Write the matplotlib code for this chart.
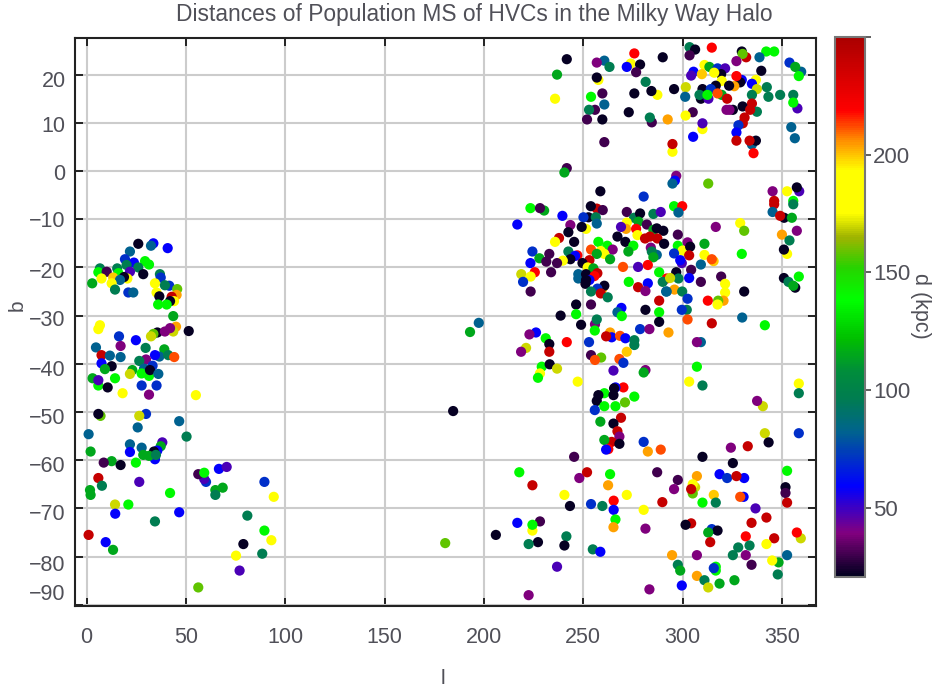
import matplotlib
matplotlib.use('Agg')
import matplotlib.pyplot as plt
import numpy as np
from matplotlib.colors import LinearSegmentedColormap
from matplotlib.transforms import ScaledTranslation

# (l, b, d), one list per sky region
left_upper = [(33.6,-15,59),(26,-15.1,22),(32.4,-15.5,82),(40.8,-16,59),(21.8,-16.7,82),(19.3,-18.3,70),(23.8,-19,59),
    (20.1,-19.5,96),(29.4,-18.7,137),(31.4,-19.4,137),(26,-20,96),(6.7,-20.2,96),(15.4,-20.2,96),(5.9,-21,137),
    (10.1,-20.9,30),(21.8,-20.9,48),(16,-21.2,137),(28.5,-21.4,22),(36.9,-21.4,96),(37.3,-22.1,70),(7.5,-22.3,178),
    (13.4,-22.1,199),(20.5,-22.3,178),(18.8,-22,22),(16.8,-22.6,82),(12.6,-23.3,178),(2.8,-23.3,115),(34.4,-23.3,178),
    (41.6,-23.8,70),(39.4,-23.7,96),(45.6,-24.5,158),(14.3,-24.6,96),(21,-25.2,70),(23.5,-25.2,82),(35.2,-25.2,178),
    (45.3,-25.7,204),(42.8,-26.1,240),(36.6,-26,22),(44,-27,178),(42,-27,22),(36,-27.7,137),(40.3,-27.7,137),
    (43.6,-30.1,115),(6.7,-32,178),(5.9,-32.8,178),(45,-32.3,204),(51.4,-33.2,22),(43.6,-33.3,170),(35.6,-33.5,22),
    (33.6,-33.8,158),(32.4,-34.3,170),(42,-32.6,39),(39.4,-33.3,39),(16.3,-34.3,70),(24.8,-35.1,59),(17.1,-36.3,39),
    (4.7,-36.6,82),(29.7,-36.7,96),(39.1,-37,115),(7.5,-38.2,240),(11.7,-38.3,82),(17.1,-38.6,82),(36.6,-38.5,82),
    (34.4,-38.2,59),(41.1,-38.2,96),(44.1,-38.6,212),(29.9,-39.1,39),(26.5,-39.4,96),(7.5,-39.9,59),(12.6,-40.5,22),
    (33.2,-40.4,70),(28.9,-41,82),(23,-41.3,115),(9.2,-41.1,115),(27.7,-42,137),(31.4,-42.5,137),(31.9,-41.3,22),
    (36.1,-42.1,82),(21.8,-42.1,170),(3,-43,115),(14.3,-43,137),(5.9,-44.5,137),(5.9,-43.4,48),(10.6,-44.9,22),
    (27.7,-44.5,70),(35.2,-44.5,70),(18.1,-46.1,178),(55,-46.5,178),(31.4,-46.4,39)]

left_lower = [(7,-50.8,158),(5.9,-50.4,22),(29.9,-50.4,70),(26.5,-50.8,170),(25.7,-53.2,82),(46.6,-51.9,82),(1,-54.6,82),
    (50.3,-55.1,96),(38.1,-56.3,48),(37.3,-57.1,115),(21.8,-56.7,82),(27.7,-57.4,82),(21.8,-58.3,59),(2,-58.2,115),
    (35.6,-58,59),(34.4,-59.8,59),(33.9,-58.2,22),(28.5,-58.9,115),(31.4,-59.1,115),(34.9,-58.9,96),(12.6,-60.2,115),
    (8.6,-60.5,30),(17.1,-61,22),(24.8,-60.5,137),(60.1,-64.5,70),(59.2,-63.9,48),(56.2,-62.9,30),(59.2,-62.6,137),
    (66.6,-61.8,59),(70.5,-61.4,48),(89.5,-64.5,70),(5.9,-63.7,240),(7.7,-65.3,96),(26.5,-64.5,48),(1.7,-66.2,115),
    (2,-67.2,115),(64.8,-66.2,115),(68.5,-65.7,115),(64.8,-67.2,96),(42,-66.8,137),(94.2,-67.6,178),(14.3,-69.2,170),
    (21,-69.2,137),(14.4,-71.1,59),(46.6,-70.8,59),(80.9,-71.5,96),(34.4,-72.7,96),(89.5,-74.6,137),(93,-76.6,178),
    (78.9,-77.4,22),(1,-75.5,240),(9.6,-77,59),(13.3,-78.6,115),(75.2,-79.8,178),(88.4,-79.4,96),(77,-82.9,48),
    (56.2,-86.4,158)]

middle = [(184.5,-49.8,22),(193,-33.4,115),(197.4,-31.5,82),(180.5,-77.2,158),(206,-75.5,22)]

top_right_a = [(241.7,23.2,22),(275.7,24.4,219),(290,23.6,22),(260.6,22.9,82),(256.8,22.5,39),(263.2,21.6,96),
    (273.9,22.3,178),(271.9,21.6,59),(278.6,22.1,22),(276.6,20.5,30),(236.8,20,115),(257.6,18.9,178),(256.8,19.4,22),
    (281.4,18.5,96),(259.6,16.1,30),(275.7,16.1,22),(287.3,15.8,178),(284.3,16.6,22),(253.9,15.4,137),(235.8,15,178),
    (260.6,13.8,82),(255.9,12.7,30),(252.9,12.7,96),(272.9,12.2,22),(251.9,10.7,30),(259.6,10.7,22),(284.5,10.1,30),
    (283.5,11.1,96),(292.5,10.7,204),(260.6,6,30),(241.7,0.6,30),(240.5,-0.3,115),(258.6,-4.2,22),(280.4,-5.3,70)]

top_right_b = [(303.5,25.7,96),(306.3,25.2,22),(314.7,25.6,219),(329.8,24.8,22),(332,23.6,240),(330.2,24.3,158),
    (342.1,24.8,137),(346.1,24.8,137),(338.7,23.6,82),(303.5,24,30),(327.1,22.8,39),(353.8,22.5,70),(359.7,20.6,82),
    (356.7,21.6,115),(358.5,19.7,137),(311,22,178),(313.5,21.6,115),(305.5,20.6,59),(304.3,19.8,48),(309.7,20.1,199),
    (317.6,21.3,70),(321.4,21.3,48),(319.4,20.1,22),(315.9,20.4,178),(339.6,20.8,22),(329.8,18.9,59),(329,18.4,22),
    (327.1,19.7,219),(336.9,18.9,178),(334.9,18.1,59),(319.7,18.7,178),(326,17.6,204),(323.4,17.7,22),(316.7,17.7,22),
    (295.7,17,22),(301.6,17.4,170),(310,17,22),(314.2,17,70),(337.4,17,170),(342.4,17.4,96),(301.3,15.4,82),
    (309.2,15,22),(308.5,15.8,96),(313,15,48),(312.5,15.8,137),(319.7,15.8,115),(317.6,16.1,212),(322.4,15,240),
    (334.9,15.8,96),(343.2,15.4,96),(349.1,15.8,96),(355.7,15.8,96),(357.8,13,48),(355.7,14.2,137),(334.9,14,240),
    (330.2,13.4,22),(325.3,12.7,22),(322.1,12.7,39),(323.6,12.7,39),(337.4,12.3,96),(334,12.7,240),(305.1,12.2,30),
    (301.5,11.5,178),(331.2,11.1,240),(330.3,9.9,240),(310,8.7,178),(310,9.9,48),(328.1,9.5,70),(354.7,9.1,82),
    (327.1,8,59),(305.3,7.1,59),(356.5,6.8,82),(327.1,6.3,240),(334.9,5.5,82),(336.9,6.3,22),(333.7,6.3,240),
    (294.9,4,178),(294.9,5.6,240),(335.7,3.7,219),(296.8,-1,39),(296.1,-2,59),(294.9,-2.6,82),(312.9,-2.6,158),
    (345.3,-4.2,39),(358.7,-4.2,48),(352.6,-4.2,178),(357.5,-3.4,22)]

centre_a = [(230.3,-8.2,115),(223.4,-7.7,137),(228.2,-7.7,30),(256.8,-7.8,240),(253.8,-7.3,22),(259.8,-8.1,30),
    (239.5,-9.3,59),(216.8,-11.1,59),(252.6,-9.6,22),(250.1,-9.6,70),(256.3,-9.6,96),(256.8,-10.9,82),(271.9,-8.5,30),
    (275.6,-9.7,96),(278.6,-8.8,22),(285.3,-8.9,96),(289,-8.5,48),(277.8,-10.5,115),(271.9,-10.7,178),(282,-11.1,30),
    (271.5,-12,204),(269,-11.6,48),(276.6,-12,219),(285.3,-12.2,115),(287,-11.9,22),(290.3,-12.4,22),(243.5,-11.2,39),
    (251.4,-12,178),(249.2,-11.6,22),(242.5,-12.7,22),(277.3,-13.3,178),(267.2,-13.6,22),(281.1,-14,240),(283.6,-13.6,240),
    (287.3,-14,240),(237.8,-13.9,240),(235.8,-14.7,178),(245.4,-14.7,22),(271.2,-14.7,22),(257.6,-14.7,137),
    (262.1,-15.5,137),(275.2,-15.5,137),(290.7,-15.1,22),(284,-15.9,39),(264.8,-16.3,39),(253.9,-16.3,212),
    (242.5,-16.7,96),(272.7,-16.7,115),(287,-17.4,82),(284.5,-16.7,96),(224.4,-16.7,70),(232.9,-17.2,30),
    (258.8,-16.6,178),(260.6,-17.2,178),(256.8,-17.2,115),(285.3,-17.9,115),(247,-17.5,219),(245.9,-17.6,59),
    (227.9,-18.1,115),(263.5,-18.3,115),(243.5,-18.3,22),(239.7,-18.6,178),(231.4,-18.8,30),(236.8,-19.1,30),
    (223.4,-19.1,59),(253.1,-18.5,240),(249.6,-19.1,22)]

centre_b = [(252.2,-20,178),(255.1,-20.2,115),(270,-19.9,212),(277.6,-19.9,48),(282.5,-19.5,219),(288.2,-21,137),
    (225.6,-21,219),(233.8,-21,30),(218.8,-21.4,170),(223.5,-21.9,178),(247.5,-21.4,82),(247.5,-22.3,82),(251.4,-21.4,22),
    (257.1,-21.2,240),(255.6,-21.8,219),(292,-22.3,219),(219.7,-23,70),(290,-23,96),(253.1,-22.6,59),(251.4,-22.6,22),
    (272.9,-23,137),(282.5,-23.3,59),(251.1,-23.4,22),(259.6,-24.4,199),(260.6,-23.8,22),(277.6,-24.1,240),
    (257.1,-24.4,70),(281.3,-24.9,39),(253.9,-25,96),(223.5,-25,30),(291.7,-25,82),(258.8,-25.4,240),(262.3,-26.2,96),
    (288.2,-26.9,240),(246.4,-27.7,22),(253.9,-27.7,30),(269.2,-28.4,59),(267.2,-29.3,82),(281.3,-28.8,22),
    (288.2,-29.3,137),(269.4,-30.1,137),(238.6,-30,22),(246.4,-29.7,137),(288.2,-31.3,22),(255.9,-31.8,39),
    (256.8,-30.8,96),(248.9,-31.9,22),(255.8,-33.1,137),(278.6,-32.8,70),(283.3,-32.8,39),(292.9,-33.5,204),
    (263.5,-33.5,204),(226.2,-33.5,59),(222.9,-33.9,39),(231.1,-34.7,137),(264.3,-34.5,59),(261.5,-34.3,240),
    (268.5,-34.2,212),(271.2,-34.7,59),(275.7,-35.1,96),(275.7,-36.1,96),(241.7,-35.5,219),(252.9,-35.5,70),
    (232.9,-35.9,22)]

centre_c = [(346.1,-6.2,240),(346.1,-6.9,240),(355.7,-6.2,137),(355.7,-6.9,96),(295.7,-7.3,137),(299.8,-7.3,219),
    (297.9,-8.6,82),(345.3,-8.5,82),(351.1,-9.7,22),(349.1,-9.3,240),(355,-9.7,115),(329,-10.8,178),(331,-12.4,158),
    (316.7,-11.6,39),(297.6,-13.2,30),(302.5,-14.8,39),(357.5,-12.4,39),(350,-13.2,204),(353.8,-14.4,96),(311,-15.1,115),
    (297.6,-15.5,137),(300,-16.5,178),(303.8,-15.7,22),(352.6,-17.2,178),(351,-16.3,22),(329.8,-17.2,137),(295.7,-17.1,70),
    (303.3,-17.5,240),(311,-17.4,178),(315.6,-18.7,199),(314.7,-18.3,212),(299.6,-19.1,48),(298.8,-18.5,59),
    (309.2,-19.4,82),(304.3,-20.5,30),(296.8,-21,22),(319.4,-21.9,30),(358.5,-21.9,137),(351,-22.2,22),(303.3,-22.2,59),
    (297.9,-22.3,96),(293.7,-22.2,170),(309.2,-23,30),(321.4,-23.4,178),(356.7,-24.2,22),(353.3,-23,96),(355.7,-23.8,115),
    (331,-25,22),(295.9,-24.6,204),(292,-25,82),(299.8,-25,96),(321.4,-25.2,178),(302.5,-26.5,70),(312.7,-26.9,219),
    (320.6,-26.9,204),(317.9,-26.9,158),(317.6,-27.7,178),(302.1,-28.8,96),(299.6,-28.8,70),(302.5,-30.8,212),
    (330,-30.4,82),(314.7,-31.6,240),(341.4,-32,137),(309.2,-35.5,82),(307.2,-35.5,39)]

low_a = [(221.2,-36.7,170),(218.7,-37.5,39),(232.9,-37.5,240),(253.9,-38.2,30),(259,-38.7,158),(255.9,-39.2,212),
    (268.2,-39,212),(271.9,-37.5,199),(270.2,-39.8,70),(265.2,-41.4,48),(281.3,-41.3,39),(280.4,-41.8,115),(229.1,-40.6,137),
    (233.1,-40.1,22),(236.8,-41,170),(228.2,-42,178),(227.2,-42.9,137),(247.2,-43.7,178),(270.2,-44.9,219),(266.2,-44.9,59),
    (265.5,-45.1,22),(260.6,-46.1,137),(265.2,-46.5,22),(257.6,-46.5,22),(275.7,-46.8,137),(256.8,-47.7,22),(271,-48,158),
    (260.6,-48.8,137),(266.2,-48.8,137),(255.8,-49.6,70),(269,-51.2,240),(258.6,-52,115),(265.2,-52.4,22),(267.2,-54,240),
    (268.2,-55.1,39),(264.3,-56.2,240),(260.6,-55.8,115),(268.2,-56.6,22),(262.6,-57.7,219),(261.5,-57.8,59),
    (280.4,-56.2,70),(282.5,-58.2,204),(289,-57.8,212),(245.4,-59.3,30),(217.8,-62.5,137),(248,-63.7,39),(251.9,-62.5,240),
    (224.4,-65.2,240),(263.5,-62.9,137),(262.5,-65.2,204),(287.2,-62.5,30),(240.5,-67.2,178),(271.9,-67.2,178),
    (265.3,-68.4,219),(253.9,-69.1,70),(259.6,-69.5,96),(243.3,-69.5,22),(289.8,-68.7,240),(265.3,-70.3,59),(280.4,-70.3,178),
    (266.2,-72.3,137),(265.2,-73.9,204),(281.3,-74.2,39),(216.8,-73,59),(228.2,-72.7,30),(224.4,-74.6,178),(224.4,-73.4,137),
    (241.5,-75.8,96),(227.2,-77,22),(222.5,-77.4,96),(240.5,-77.7,22),(254.8,-78.5,96),(258.6,-79,59),(236.8,-82.1,48),
    (283.3,-86.8,39),(222.5,-88,39)]

low_b = [(307.2,-40.6,137),(303.3,-43.7,178),(310,-44.5,96),(358.5,-44.1,178),(358.5,-46.1,96),(340.4,-48.8,170),
    (337.5,-47.7,39),(341.4,-54.4,170),(358.5,-54.4,70),(343.3,-56.3,22),(324.3,-57.4,39),(332.8,-57.1,240),(310,-59.3,22),
    (325.3,-60.6,22),(352.6,-62.2,137),(318.6,-62.9,59),(322.4,-63.7,70),(331,-63.7,59),(327.1,-63.3,240),(307.2,-63.3,204),
    (297.6,-64.1,30),(306.3,-65.6,170),(305.1,-65,178),(295.7,-66,39),(305.1,-66.9,158),(304.3,-66,240),(351.8,-65.6,22),
    (351.8,-66.8,30),(315.7,-67.2,199),(330.7,-67.6,59),(329,-67.6,212),(352.6,-68.8,240),(310,-68.8,137),(316.7,-68.8,96),
    (336.7,-70,48),(342.2,-71.9,240),(334.7,-73,240),(304.3,-73.1,240),(301.5,-73.4,22),(314.7,-74.3,70),(317.6,-74.6,22),
    (312.9,-75,115),(313.9,-77,240),(331.8,-75.8,219),(346.1,-76.2,240),(359.5,-76.2,170),(357.5,-75,219),(342.2,-77.4,178),
    (333.7,-77.7,96),(328,-78.1,96),(325.3,-79.7,96),(331.8,-79.7,39),(352.6,-79.7,82),(294.7,-79.7,204),(307.2,-79.7,39),
    (348.3,-81.2,115),(345.1,-80.8,178),(334.7,-81.7,30),(297.6,-81.7,96),(298.8,-82.9,115),(316.7,-82.1,137),(316.7,-82.9,137),
    (315.7,-82.4,70),(347.9,-83.7,96),(307.2,-84,204),(311,-84.9,96),(326.1,-84.9,115),(318.6,-85.6,115),(312.9,-86.4,170),
    (299.6,-86,59)]

x_ticks = [0, 50, 100, 150, 200, 250, 300, 350]
y_ticks = [20, 10, 0, -10, -20, -30, -40, -50, -60, -70, -80, -90]
cbar_ticks = [50, 100, 150, 200, 250]

points = left_upper + left_lower + middle + top_right_a + top_right_b + centre_a + centre_b + centre_c + low_a + low_b
l, b, d = np.array(points).T

cmap = LinearSegmentedColormap.from_list('hvc', [
    (0.0, '#00001e'), (0.08, '#82007f'), (0.167, '#0000ff'), (0.27, '#00648c'), (0.33, '#007d50'), (0.378, '#008c3c'),
    (0.44, '#00be00'), (0.513, '#00ff00'), (0.574, '#28d200'), (0.63, '#a0b400'), (0.674, '#ffff00'), (0.754, '#ffff00'),
    (0.81, '#ff8c00'), (0.865, '#ff0000'), (1.0, '#aa0000')])

plt.rcParams['font.family'] = ['Liberation Sans', 'DejaVu Sans']
grey = '#505058'
W, H = 933, 687

fig = plt.figure(figsize=(W/100, H/100), dpi=100)
ax = fig.add_axes([75.3/W, 1-606/H, (815.7-75.3)/W, (606-38)/H])
sc = ax.scatter(l, b, c=d, s=54, cmap=cmap, vmin=20.5, vmax=250, linewidths=0, zorder=3)

ax.set_xlim(-5.7, 367)
ax.set_ylim(-90.25, 27.6)
ax.set_xticks(x_ticks)
ax.set_yticks(y_ticks)
ax.grid(True, color='#cccccc', lw=1.5, zorder=1)
ax.set_axisbelow(True)
ax.tick_params(direction='in', length=6, width=1.4, color='#222222', labelcolor=grey, labelsize=15.5,
               top=True, right=True, pad=7)
ax.tick_params(axis='x', pad=15)
for s in ax.spines.values():
    s.set_linewidth(1.5)
    s.set_color('#222222')

# y labels do not sit exactly on their lines in the original, the bottom one is pushed up into the frame
label_shift = {20: 4, 10: 1, 0: 1, -10: 0, -20: 3, -30: 2, -40: 4, -50: 4, -60: 4, -70: 4, -80: 6, -90: 0}
for t, v in zip(ax.get_yticklabels(), y_ticks):
    t.set_transform(t.get_transform() + ScaledTranslation(0, -label_shift[v]/100, fig.dpi_scale_trans))
    if v == -90:
        t.set_verticalalignment('bottom')

fig.text(474/W, 1-14/H, 'Distances of Population MS of HVCs in the Milky Way Halo', fontsize=16.4, color=grey,
         ha='center', va='center')
fig.text(443/W, 1-678/H, 'l', fontsize=15, color=grey, ha='center', va='center')
fig.text(17/W, 1-305/H, 'b', fontsize=15, color=grey, rotation=90, ha='center', va='center')

cax = fig.add_axes([835/W, 1-577/H, 30/W, (577-37)/H])
cb = fig.colorbar(sc, cax=cax)
cb.set_ticks(cbar_ticks, labels=['50', '100', '150', '200', ''])
cb.ax.tick_params(direction='out', length=4, width=1.2, color='#444444', labelcolor=grey, labelsize=16, pad=2)
cb.outline.set_edgecolor('#777777')
cb.outline.set_linewidth(1.5)
fig.text(921/W, 1-306/H, 'd (kpc)', fontsize=15.5, color=grey, rotation=270, ha='center', va='center')

fig.savefig('out.png', dpi=100)
